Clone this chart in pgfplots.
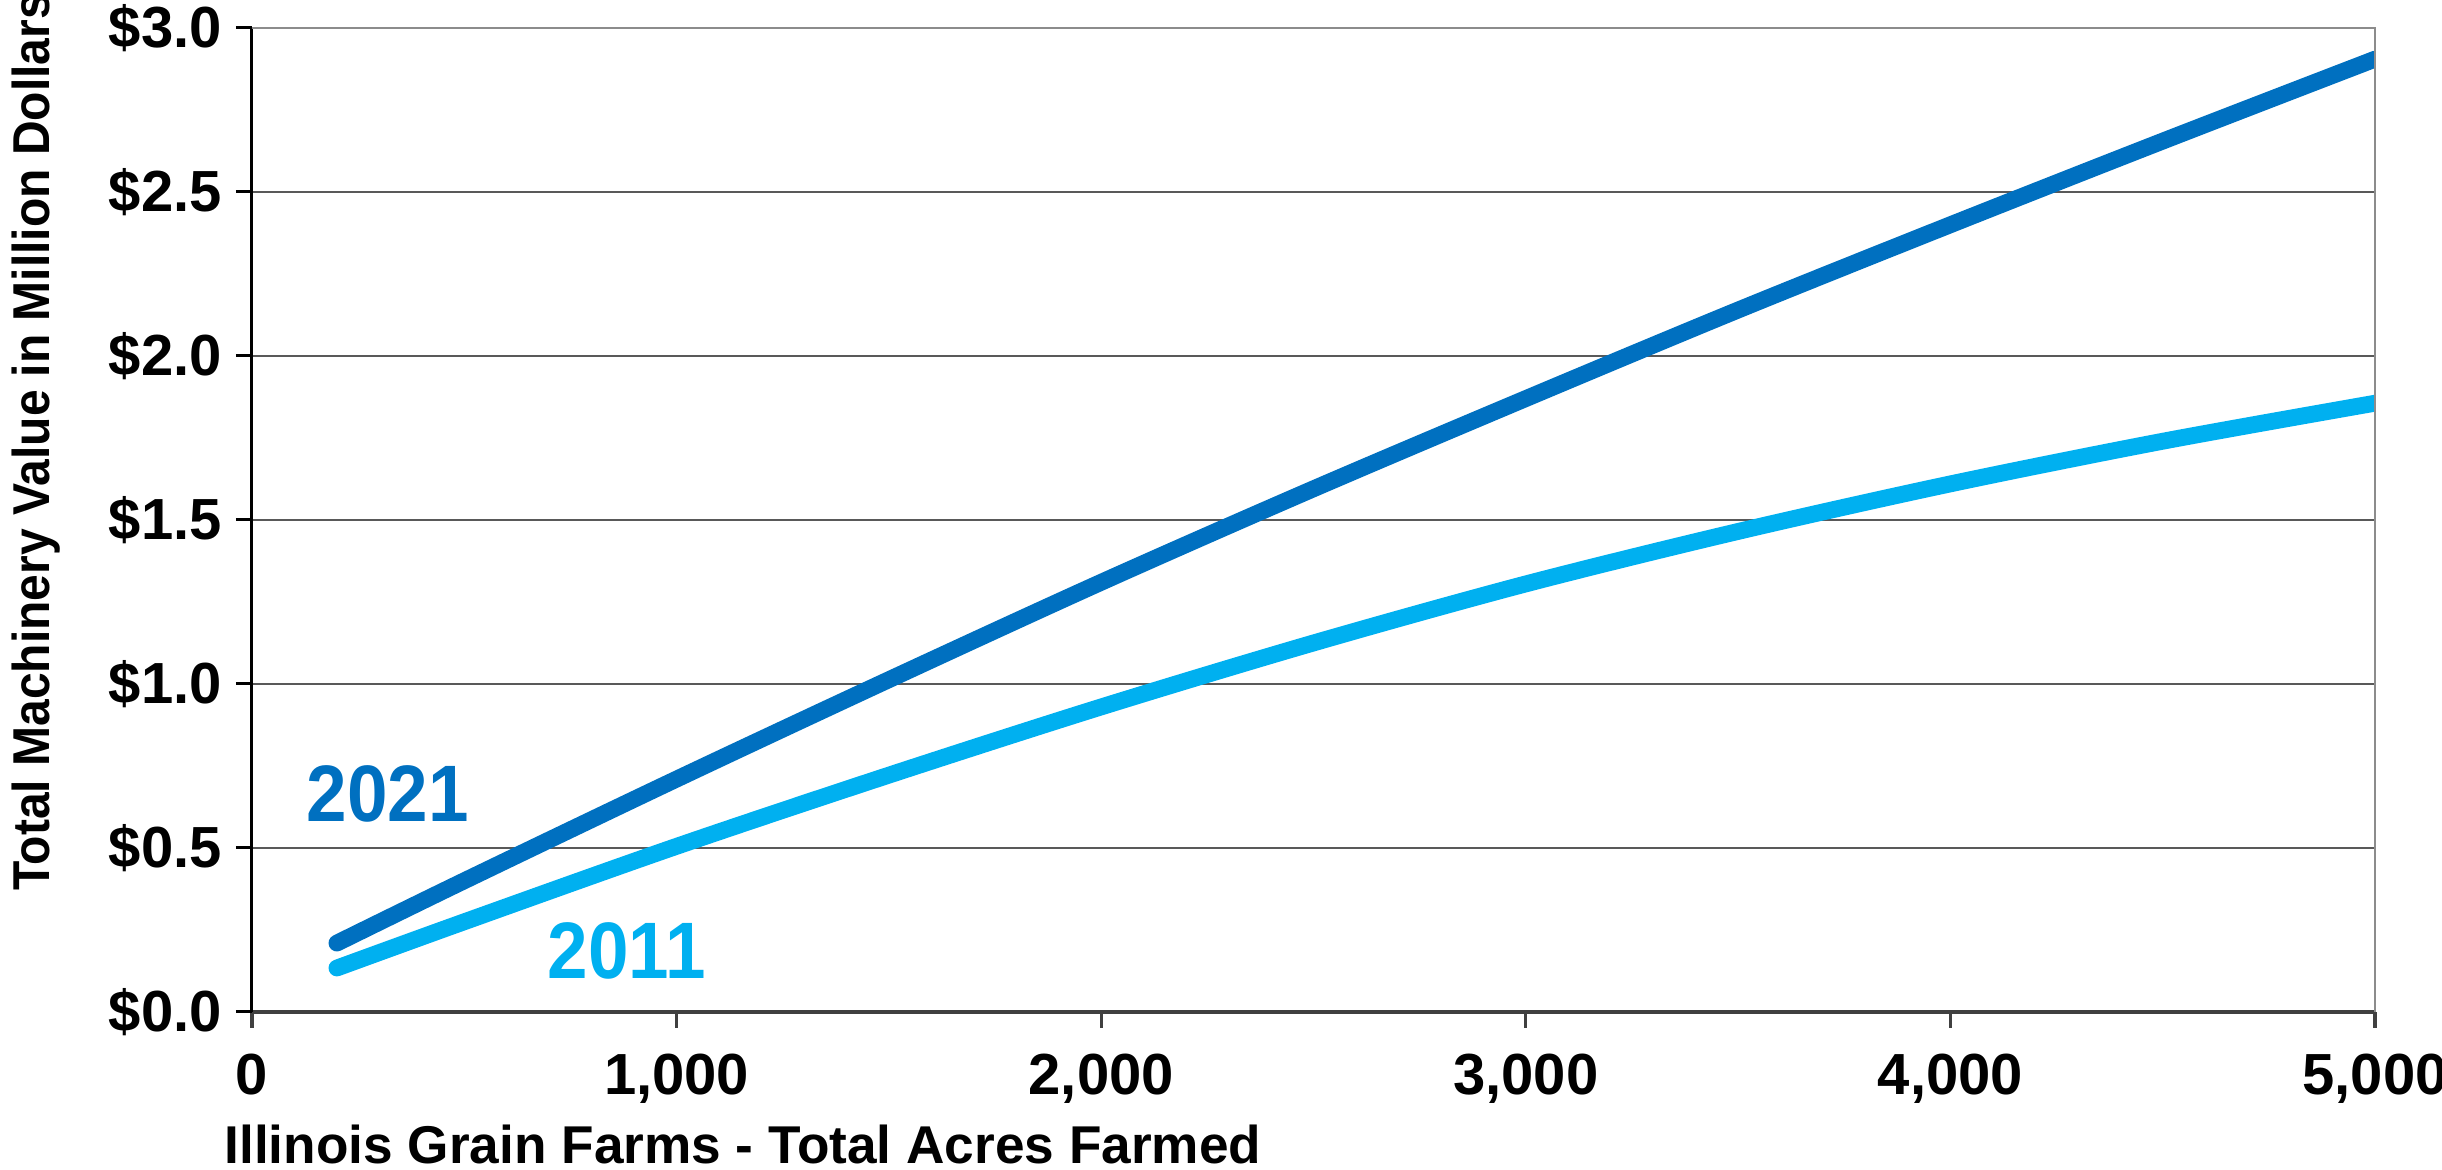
\documentclass[border=0pt]{standalone}
\usepackage{fontspec}
\setmainfont{Liberation Sans}
\usepackage{pgfplots}
\pgfplotsset{compat=1.18}
\definecolor{c2021}{HTML}{0070C0}
\definecolor{c2011}{HTML}{00B0F0}
\definecolor{axgray}{HTML}{404040}
\definecolor{bordergray}{HTML}{8C8C8C}
\begin{document}
\begin{tikzpicture}
\begin{axis}[
  scale only axis,
  width=530.75pt, height=246pt,
  xmin=0, xmax=5000, ymin=0, ymax=3,
  axis lines=left,
  axis line style={-},
  x axis line style={color=axgray, line width=0.8pt},
  y axis line style={color=black, line width=0.75pt},
  tick align=outside,
  major tick length=4pt,
  xtick={0,1000,2000,3000,4000,5000},
  xticklabels={0,{1,000},{2,000},{3,000},{4,000},{5,000}},
  ytick={0,0.5,1,1.5,2,2.5,3},
  yticklabels={\$0.0,\$0.5,\$1.0,\$1.5,\$2.0,\$2.5,\$3.0},
  xtick style={color=axgray, line width=0.8pt},
  ytick style={color=black, line width=0.75pt},
  ticklabel style={font=\fontsize{14.5}{17}\selectfont\bfseries, text=black},
  xticklabel style={yshift=-3pt},
  ymajorgrids=true,
  major grid style={color=black!65, line width=0.3pt},
  clip mode=individual,
]
\addplot[color=c2021, line width=4.2pt, line cap=round, line join=round, smooth] coordinates {
(200,0.21) (500,0.40) (1000,0.71) (1500,1.013) (2000,1.31) (2500,1.595) (3000,1.87) (3500,2.14) (4000,2.40) (4500,2.655) (5000,2.905)
};
\addplot[color=c2011, line width=4.2pt, line cap=round, line join=round, smooth] coordinates {
(200,0.134) (500,0.275) (1000,0.505) (1500,0.722) (2000,0.93) (2500,1.125) (3000,1.305) (3500,1.465) (4000,1.61) (4500,1.74) (5000,1.856)
};
\draw[bordergray, line width=0.5pt] (rel axis cs:0,1) -- (rel axis cs:1,1) -- (rel axis cs:1,0);
\node[text=c2021, font=\fontsize{18.2}{21}\selectfont\bfseries, anchor=center, yscale=1.1] at (axis cs:320,0.665) {2021};
\node[text=c2011, font=\fontsize{18.2}{21}\selectfont\bfseries, anchor=center, yscale=1.1] at (axis cs:883,0.1875) {2011};
\coordinate (bl) at (rel axis cs:0,0);
\coordinate (tr) at (rel axis cs:1,1);
\end{axis}
\node[font=\fontsize{12}{14}\selectfont\bfseries, rotate=90, yscale=1.08, anchor=base] at ([shift={(-50.6pt,142.5pt)}]bl) {Total Machinery Value in Million Dollars};
\node[font=\fontsize{13.3}{16}\selectfont\bfseries, anchor=base west] at ([shift={(-10.4pt,-37.8pt)}]bl) {Illinois Grain Farms - Total Acres Farmed};
\pgfresetboundingbox
\path[use as bounding box] ([shift={(-63pt,-39.5pt)}]bl) rectangle ([shift={(16.75pt,7pt)}]tr);
\end{tikzpicture}
\end{document}
